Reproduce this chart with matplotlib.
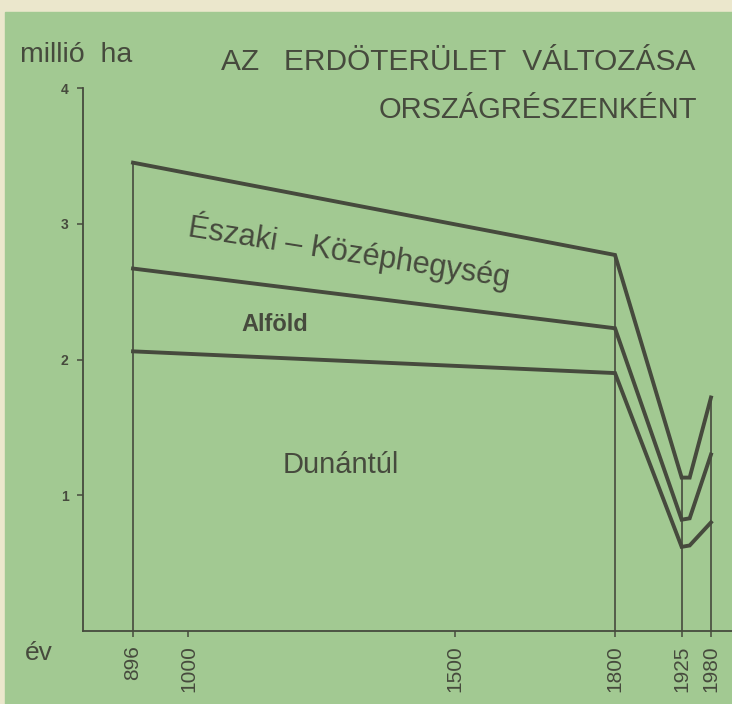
import matplotlib.pyplot as plt
import numpy as np
from matplotlib.patches import Rectangle

plt.rcParams['font.family'] = ['Liberation Sans', 'DejaVu Sans']

years = [896, 1800, 1925, 1940, 1980]
# million hectares per region
dunantul = [2.06, 1.90, 0.62, 0.63, 0.80]
alfold = [0.61, 0.33, 0.20, 0.20, 0.50]
eszaki = [0.78, 0.54, 0.31, 0.30, 0.42]

tick_years = [896, 1000, 1500, 1800, 1925, 1980]
drop_years = [896, 1800, 1925, 1980]

ink = "#464a3d"
green = "#a2c992"

bounds = np.cumsum([dunantul, alfold, eszaki], axis=0)
top = dict(zip(years, bounds[-1]))

fig = plt.figure(figsize=(7.32, 7.04), dpi=100, facecolor="#ebe7cc")
fig.patches.append(Rectangle((5 / 732, 0), 1, 1 - 12 / 704, transform=fig.transFigure,
                             color=green, zorder=-10))

ax = fig.add_axes([83 / 732, 73 / 704, 649 / 732, 543 / 704])
ax.set_facecolor("none")
ax.set_zorder(2)

for b in bounds:
    ax.plot(years, b, color=ink, lw=2.8, solid_joinstyle="miter")
ax.vlines(drop_years, 0, [top[y] for y in drop_years], color=ink, lw=1.2)

ax.set_xlim(802.2, 2019.4)
ax.set_ylim(0, 4)
for s in ["top", "right"]:
    ax.spines[s].set_visible(False)
for s in ["left", "bottom"]:
    ax.spines[s].set_color(ink)
    ax.spines[s].set_linewidth(1.3)

ax.set_yticks([1, 2, 3, 4])
ax.set_yticklabels(["1", "2", "3", "4"], fontsize=10, fontweight="bold", color=ink)
ax.set_xticks(tick_years)
ax.set_xticklabels([str(y) for y in tick_years], rotation=90, fontsize=15, color=ink)
ax.tick_params(axis="y", direction="out", length=4.5, width=1.1, color=ink, pad=6)
ax.tick_params(axis="x", direction="out", length=4.5, width=1.1, color=ink, pad=6)

ax.text(1301, 2.80, "Északi – Középhegység", fontsize=22, color=ink,
        rotation=-9, ha="center", va="center", rotation_mode="anchor")
ax.text(1162, 2.26, "Alföld", fontsize=17, fontweight="bold", color=ink,
        ha="center", va="center")
ax.text(1286, 1.22, "Dunántúl", fontsize=21, color=ink, ha="center", va="center")

fig.text(20 / 732, 1 - 62 / 704, "millió  ha", fontsize=20.5, color=ink, ha="left", va="baseline")
fig.text(695 / 732, 1 - 70 / 704, "AZ   ERDÖTERÜLET  VÁLTOZÁSA", fontsize=21.5, color=ink,
         ha="right", va="baseline")
fig.text(697 / 732, 1 - 118 / 704, "ORSZÁGRÉSZENKÉNT", fontsize=21, color=ink,
         ha="right", va="baseline")
fig.text(25 / 732, 1 - 653 / 704, "év", fontsize=19, color=ink, ha="left", va="center")

fig.savefig("out.png", dpi=100, facecolor=fig.get_facecolor())
